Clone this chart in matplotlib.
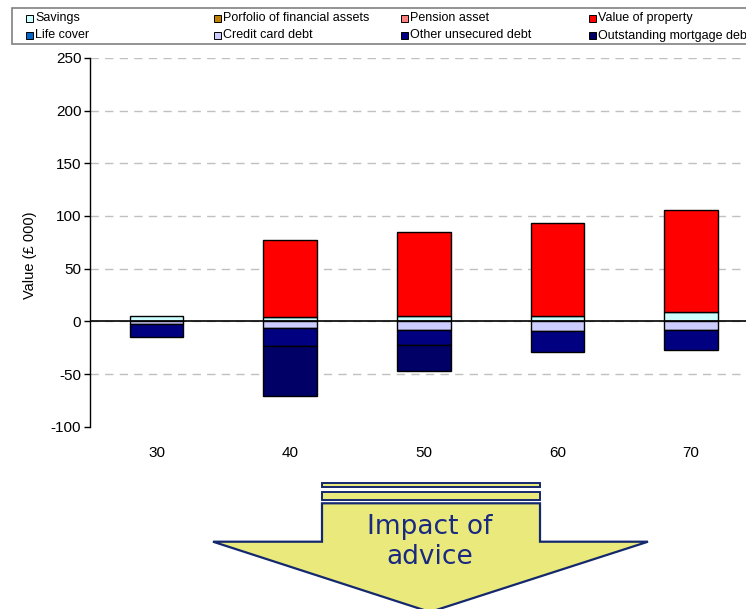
import numpy as np
import matplotlib
matplotlib.use('Agg')
import matplotlib.pyplot as plt
from matplotlib.patches import Rectangle, Polygon

plt.rcParams['font.family'] = ['Liberation Sans', 'DejaVu Sans']
plt.rcParams['axes.unicode_minus'] = False

# data (values in £ 000)
ages = ['30', '40', '50', '60', '70']
savings = [5, 4.5, 5, 5.3, 9]
portfolio = [0, 0, 0, 0, 0]
pension = [0, 0, 0, 0, 0]
property_value = [0, 72.5, 80, 88, 97]
life_cover = [0, 0, 0, 0, 0]
credit_card = [-3, -6, -8.5, -9.2, -8]
other_unsecured = [-12, -17, -14, -20, -19]
mortgage = [0, -48, -24.5, 0, 0]

legend_labels = ['Savings', 'Porfolio of financial assets', 'Pension asset', 'Value of property',
                 'Life cover', 'Credit card debt', 'Other unsecured debt', 'Outstanding mortgage debt']
legend_colors = ['#CCFFFF', '#C08000', '#FF8080', '#FF0000',
                 '#0066CC', '#CCCCFF', '#000080', '#000066']

W, H = 746, 609
fig = plt.figure(figsize=(W / 100, H / 100), dpi=100)

# main chart axes (it runs past the right edge, as in the original)
ax = fig.add_axes([89.7 / W, 1 - 426.7 / H, (758 - 89.7) / W, (426.7 - 57.8) / H])
x = np.arange(len(ages))
bw = 0.4

pos_series = [(savings, '#CCFFFF'), (portfolio, '#C08000'), (pension, '#FF8080'), (property_value, '#FF0000')]
neg_series = [(life_cover, '#0066CC'), (credit_card, '#CCCCFF'), (other_unsecured, '#000080'), (mortgage, '#000066')]

bottom = np.zeros(len(ages))
for vals, col in pos_series:
    v = np.array(vals, dtype=float)
    mask = v != 0
    ax.bar(x[mask], v[mask], bw, bottom=bottom[mask], color=col, edgecolor='black', linewidth=1, zorder=3)
    bottom += v
bottom = np.zeros(len(ages))
for vals, col in neg_series:
    v = np.array(vals, dtype=float)
    mask = v != 0
    ax.bar(x[mask], v[mask], bw, bottom=bottom[mask], color=col, edgecolor='black', linewidth=1, zorder=3)
    bottom += v

ax.axhline(0, color='black', linewidth=1.2, zorder=4)
ax.set_xlim(-0.5, len(ages) - 0.5)
ax.set_ylim(-100, 250)
ax.set_yticks(np.arange(-100, 251, 50))
ax.set_xticks(x)
ax.set_xticklabels(ages)
ax.tick_params(axis='x', length=0, pad=14, labelsize=11)
ax.tick_params(axis='y', length=4, width=1, direction='out', labelsize=11, pad=2)
for s in ['top', 'right', 'bottom']:
    ax.spines[s].set_visible(False)
ax.spines['left'].set_linewidth(1)
ax.yaxis.grid(True, color='#C0C0C0', linestyle=(0, (6, 4.5)), linewidth=1)
ax.set_axisbelow(True)
ax.get_ygridlines()[0].set_visible(False)
ax.set_ylabel('Value (£ 000)', fontsize=10.5)
ax.yaxis.set_label_coords(-0.079, 0.465)

# overlay in pixel coordinates for legend box and arrow
ov = fig.add_axes([0, 0, 1, 1], zorder=5)
ov.set_xlim(0, W)
ov.set_ylim(H, 0)
ov.axis('off')
ov.patch.set_alpha(0)

ov.add_patch(Rectangle((12, 8), 760, 36, facecolor='white', edgecolor='#808080', linewidth=1.2))
col_x = [26, 214, 401, 589]
row_y = [18, 35.5]
for i, (lab, col) in enumerate(zip(legend_labels, legend_colors)):
    cx = col_x[i % 4]
    cy = row_y[i // 4]
    ov.add_patch(Rectangle((cx, cy - 3.5), 7, 7, facecolor=col, edgecolor='black', linewidth=0.7))
    ov.text(cx + 9, cy, lab, fontsize=9, va='center', ha='left')

# "Impact of advice" arrow
navy = '#14286E'
yellow = '#EAEA7C'
ov.add_patch(Rectangle((322, 483.3), 218, 4, facecolor=yellow, edgecolor=navy, linewidth=1.4))
ov.add_patch(Rectangle((322, 491.7), 218, 8.3, facecolor=yellow, edgecolor=navy, linewidth=1.4))
ov.add_patch(Polygon([(322, 503.3), (540, 503.3), (540, 541.7), (648, 541.7),
                      (430, 612), (213, 541.7), (322, 541.7)],
                     closed=True, facecolor=yellow, edgecolor=navy, linewidth=1.6))
ov.text(430, 542, 'Impact of\nadvice', ha='center', va='center', fontsize=19,
        color='#1A2A80', family='DejaVu Sans', linespacing=1.25)

fig.savefig('out.png', dpi=100)
